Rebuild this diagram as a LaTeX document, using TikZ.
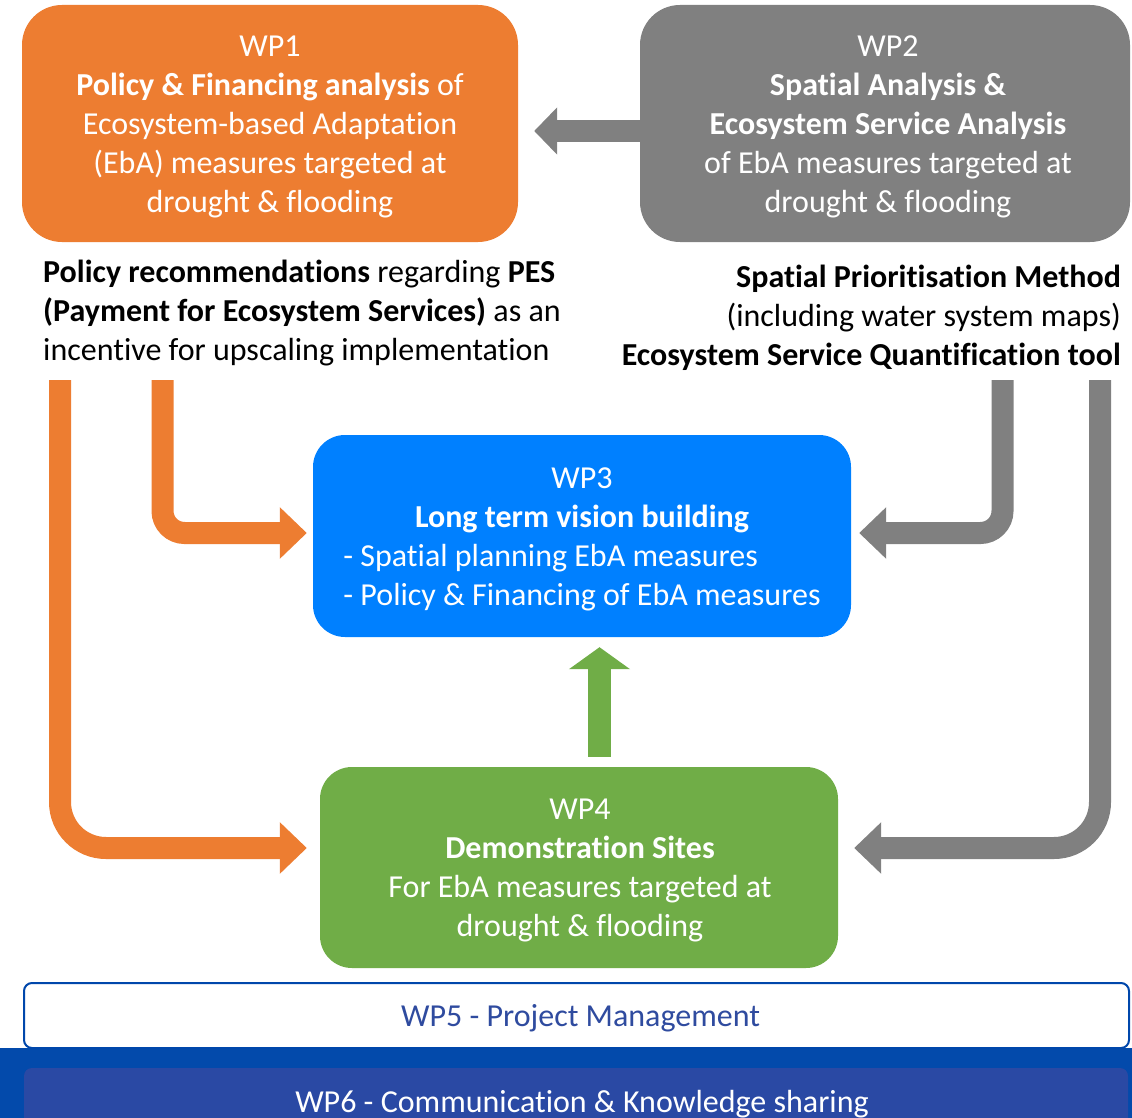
\documentclass[tikz,border=0pt]{standalone}
\usepackage{fontspec}
\setmainfont[Ligatures=NoCommon]{Carlito}
\usetikzlibrary{arrows.meta,calc}
\definecolor{wporange}{HTML}{ED7D31}
\definecolor{wpgray}{HTML}{808080}
\definecolor{wpblue}{HTML}{0080FF}
\definecolor{wpgreen}{HTML}{70AD47}
\definecolor{wpnavy}{HTML}{0047AB}
\definecolor{wpband}{HTML}{034AAB}
\definecolor{wpinner}{HTML}{2A49A4}
\definecolor{wptext}{HTML}{2F4B9F}
\begin{document}
\begin{tikzpicture}[x=1pt,y=-1pt,
  txt/.style={font=\fontsize{32}{39}\selectfont},
  wpbox/.style={rectangle, rounded corners=#1, inner sep=0pt},
  wptxt/.style={txt, inner sep=0pt, align=center, text=white},
  lbl/.style={txt, inner sep=0pt, text=black},
  flow/.style={line width=22pt, rounded corners=#1},
  bigtip/.style={-{Triangle[width=50pt,length=27pt]}}
]
\useasboundingbox (0,0) rectangle (1132,1118);
\fill[white] (0,0) rectangle (1132,1118);

% boxes
\node[wpbox=40pt, fill=wporange, minimum width=496pt, minimum height=237pt] (wp1) at (270,123.5) {};
\node[wptxt] (wp1t) at ($(wp1.center)+(0,3)$)
  {WP1\\\textbf{Policy \& Financing analysis} of\\Ecosystem-based Adaptation\\(EbA) measures targeted at\\drought \& flooding};
\node[wpbox=40pt, fill=wpgray, minimum width=490pt, minimum height=237pt] (wp2) at (885,123.5) {};
\node[wptxt] (wp2t) at ($(wp2.center)+(3,3)$)
  {WP2\\\textbf{Spatial Analysis \&}\\\textbf{Ecosystem Service Analysis}\\of EbA measures targeted at\\drought \& flooding};
\node[wpbox=32pt, fill=wpblue, minimum width=538pt, minimum height=202pt] (wp3) at (582,536) {};
\node[wptxt] (wp3t) at ($(wp3.center)+(0,3)$)
  {WP3\\\textbf{Long term vision building}\\\rlap{- Spatial planning EbA measures}\phantom{- Policy \& Financing of EbA measures}\\- Policy \& Financing of EbA measures};
\node[wpbox=32pt, fill=wpgreen, minimum width=518pt, minimum height=201pt] (wp4) at (579,867.5) {};
\node[wptxt] (wp4t) at ($(wp4.center)+(1,3)$)
  {WP4\\\textbf{Demonstration Sites}\\For EbA measures targeted at\\drought \& flooding};

% labels
\node[lbl, anchor=west, align=left] (pes) at (43,313)
  {\textbf{Policy recommendations} regarding \textbf{PES}\\\textbf{(Payment for Ecosystem Services)} as an\\incentive for upscaling implementation};
\node[lbl, anchor=east, align=right] (spm) at (1121,318)
  {\textbf{Spatial Prioritisation Method}\\(including water system maps)\\\textbf{Ecosystem Service Quantification tool}};

% bottom bands
\fill[wpband] (0,1048) rectangle (1132,1118);
\node[wpbox=8pt, fill=wpinner, minimum width=1104pt, minimum height=68pt] (wp6) at (576,1102) {};
\node[wptxt] (wp6t) at ($(wp6.center)+(6,2)$) {WP6 - Communication \& Knowledge sharing};
\node[wpbox=8pt, fill=white, draw=wpnavy, line width=2pt, minimum width=1105pt, minimum height=65pt] (wp5) at (576.5,1015.5) {};
\node[wptxt, text=wptext] (wp5t) at ($(wp5.center)+(4,3)$) {WP5 - Project Management};

% free ends
\coordinate (o1) at (162.5,380);
\coordinate (o2) at (60,380);
\coordinate (g1) at (1002.5,380);
\coordinate (g2) at (1100,380);

% arrows
\draw[wpgray, line width=22pt, -{Triangle[width=46pt,length=23pt]}]
  ($(wp2.west)+(0,7.5)$) -- ($(wp1.east)+(16,7.5)$);
\draw[wporange, flow=22pt, bigtip] (o1) |- ($(wp3.west)+(-6,-3)$);
\draw[wporange, flow=46pt, bigtip] (o2) |- ($(wp4.west)+(-13,-19.5)$);
\draw[wpgray, flow=22pt, bigtip] (g1) |- ($(wp3.east)+(8,-3)$);
\draw[wpgray, flow=46pt, bigtip] (g2) |- ($(wp4.east)+(16,-19.5)$);
\draw[wpgreen, line width=23pt, -{Triangle[width=60pt,length=22pt]}]
  ($(wp4.north)+(20.5,-10)$) -- ($(wp3.south)+(17.5,10)$);
\end{tikzpicture}
\end{document}
